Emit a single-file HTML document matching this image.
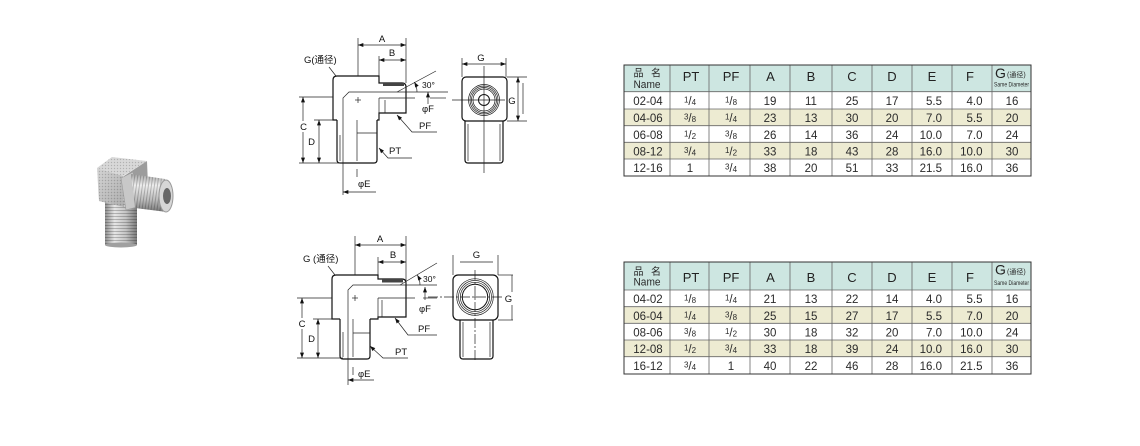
<!DOCTYPE html>
<html><head><meta charset="utf-8"><style>
html,body{margin:0;padding:0;background:#fff;}
svg{display:block;}
.t{font-family:"Liberation Sans","Noto Sans CJK SC",sans-serif;font-size:11.5px;fill:#2a2a2a;}
.h{font-family:"Liberation Sans","Noto Sans CJK SC",sans-serif;font-size:13px;fill:#222;}
.l{font-family:"Liberation Sans","Noto Sans CJK SC",sans-serif;font-size:9.5px;fill:#111;}
.o{stroke:#111;stroke-width:1.2;fill:none;}
.d{stroke:#222;stroke-width:0.7;fill:none;}
.gl{stroke:#666;stroke-width:0.8;}
</style></head><body>
<svg width="1140" height="446" viewBox="0 0 1140 446" xmlns="http://www.w3.org/2000/svg">
<defs>
<marker id="a" viewBox="0 0 8 6" refX="8" refY="3" markerWidth="6" markerHeight="4" orient="auto-start-reverse" markerUnits="userSpaceOnUse"><path d="M0,0L8,3L0,6z" fill="#111"/></marker>
<linearGradient id="gv" x1="0" x2="1" y1="0" y2="0"><stop offset="0" stop-color="#8e8e8e"/><stop offset="0.3" stop-color="#e6e6e6"/><stop offset="0.65" stop-color="#c4c4c4"/><stop offset="1" stop-color="#7a7a7a"/></linearGradient>
<linearGradient id="gh" x1="0" x2="0" y1="0" y2="1"><stop offset="0" stop-color="#a5a5a5"/><stop offset="0.3" stop-color="#eeeeee"/><stop offset="0.7" stop-color="#b8b8b8"/><stop offset="1" stop-color="#777"/></linearGradient>
<linearGradient id="gb" x1="0" x2="1" y1="0" y2="1"><stop offset="0" stop-color="#d0d0d0"/><stop offset="1" stop-color="#a8a8a8"/></linearGradient>
<pattern id="th" width="4" height="3" patternUnits="userSpaceOnUse"><rect width="4" height="1" fill="rgba(0,0,0,0.22)"/></pattern>
<pattern id="tv" width="3" height="4" patternUnits="userSpaceOnUse" patternTransform="skewX(-8)"><rect width="1" height="4" fill="rgba(0,0,0,0.22)"/></pattern>
<pattern id="kn" width="3" height="3" patternUnits="userSpaceOnUse"><rect width="1" height="1" fill="rgba(70,70,70,0.25)"/><rect x="1.5" y="1.5" width="1" height="1" fill="rgba(255,255,255,0.35)"/></pattern>
</defs>

<!-- PHOTO -->
<g>
<rect x="105" y="200" width="32" height="45" fill="url(#gv)"/>
<rect x="105" y="200" width="32" height="45" fill="url(#th)"/>
<ellipse cx="121" cy="245" rx="16" ry="2.5" fill="#a0a0a0"/>
<polygon points="124,176 147,161 148,186 126,208" fill="#9c9c9c"/>
<polygon points="97,168 123,176 124,207 99,201" fill="url(#gb)"/>
<polygon points="97,168 123,176 124,207 99,201" fill="url(#kn)"/>
<polygon points="97,168 112,157 147,161 123,176" fill="#d4d4d4"/>
<polygon points="97,168 112,157 147,161 123,176" fill="url(#kn)"/>
<polygon points="121,178 133,172 137,207 126,210" fill="#c8c8c8" stroke="#9a9a9a" stroke-width="0.6"/>
<polygon points="131,174 165,179 167,212 135,208" fill="url(#gh)"/>
<polygon points="131,174 165,179 167,212 135,208" fill="url(#tv)"/>
<ellipse cx="166" cy="196" rx="7" ry="16" fill="#d6d6d6" stroke="#999" stroke-width="1"/>
<ellipse cx="167" cy="196" rx="4" ry="8" fill="#666"/>
</g>

<!-- TOP SIDE VIEW -->
<g>
<path class="o" d="M377,120 L379,120 L379,113 L406,113 L406,87 Q406,83 402,83 L379,83 L379,76 L337,76 Q333,76 333,80 L333,120 L337,120"/>
<path class="o" d="M337,120 L337,160 Q337,163 340,163 L374,163 Q377,163 377,160 L377,120"/>
<line x1="340" y1="135" x2="340" y2="161" class="d"/>
<rect x="383" y="83" width="21" height="3" fill="#444"/>
<line x1="379" y1="98" x2="379" y2="120" class="d"/>
<line x1="379" y1="98" x2="415" y2="98" class="d"/>
<line x1="430" y1="98" x2="446" y2="98" class="d"/>
<line x1="385" y1="100" x2="385" y2="113" class="d"/>
<path class="d" d="M343,195 L343,98 L349,92 L448,92"/>
<line x1="357" y1="120" x2="357" y2="161" class="d"/>
<line x1="357" y1="133" x2="377" y2="133" class="d"/>
<line x1="355" y1="100" x2="361" y2="100" class="d"/><line x1="358" y1="97" x2="358" y2="103" class="d"/>
<line x1="358" y1="38" x2="358" y2="76" class="d"/>
<line x1="406" y1="38" x2="406" y2="83" class="d"/>
<line x1="358" y1="45" x2="406" y2="45" class="d" marker-start="url(#a)" marker-end="url(#a)"/>
<text class="l" x="382" y="42" text-anchor="middle">A</text>
<line x1="379" y1="56" x2="379" y2="76" class="d"/>
<line x1="379" y1="60" x2="406" y2="60" class="d" marker-start="url(#a)" marker-end="url(#a)"/>
<text class="l" x="392" y="56" text-anchor="middle">B</text>
<text class="l" x="304" y="63">G(通径)</text>
<line x1="329" y1="67" x2="336" y2="76" class="d"/>
<line x1="299" y1="97" x2="333" y2="97" class="d"/>
<line x1="303" y1="97" x2="303" y2="163" class="d" marker-start="url(#a)" marker-end="url(#a)"/>
<rect x="299" y="121" width="9" height="11" fill="#fff"/>
<text class="l" x="303.5" y="130" text-anchor="middle">C</text>
<line x1="314" y1="120" x2="333" y2="120" class="d"/>
<line x1="319" y1="120" x2="319" y2="163" class="d" marker-start="url(#a)" marker-end="url(#a)"/>
<text class="l" x="311.5" y="145" text-anchor="middle">D</text>
<line x1="299" y1="163" x2="342" y2="163" class="d"/>
<line x1="357" y1="169" x2="357" y2="177" class="d"/>
<text class="l" x="358" y="187">φE</text>
<line x1="343" y1="192" x2="376" y2="192" class="d" marker-start="url(#a)"/>
<line x1="397" y1="92" x2="436" y2="71" class="d"/>
<path class="d" d="M417,92 A20,20 0 0 0 414.3,82" marker-end="url(#a)"/>
<text class="l" x="422" y="88" style="font-size:8.5px">30°</text>
<line x1="428" y1="92" x2="428" y2="104" class="d" marker-start="url(#a)"/>
<text class="l" x="422" y="112">φF</text>
<polyline class="d" points="397,115 412,132 437,132" marker-start="url(#a)"/>
<text class="l" x="419" y="129">PF</text>
<polyline class="d" points="379,148 388,158 412,158" marker-start="url(#a)"/>
<text class="l" x="389" y="154">PT</text>
</g>

<!-- TOP FRONT VIEW -->
<g>
<rect x="462" y="77" width="45" height="44" rx="4" class="o"/>
<path class="o" d="M465,121 L465,160 Q465,163 468,163 L500,163 Q503,163 503,160 L503,121"/>
<line x1="468" y1="124" x2="468" y2="161" class="d"/>
<line x1="500" y1="124" x2="500" y2="161" class="d"/>
<circle cx="484" cy="100" r="15.5" class="d"/>
<circle cx="484" cy="100" r="14" class="d"/>
<circle cx="484" cy="100" r="12.5" class="d"/>
<circle cx="484" cy="100" r="11" class="d"/>
<circle cx="484" cy="100" r="5.5" fill="none" stroke="#111" stroke-width="1"/>
<line x1="484" y1="66" x2="484" y2="173" class="d"/>
<line x1="452" y1="100" x2="505" y2="100" class="d"/>
<line x1="462" y1="58" x2="462" y2="77" class="d"/>
<line x1="506" y1="58" x2="506" y2="77" class="d"/>
<line x1="462" y1="64" x2="506" y2="64" class="d" marker-start="url(#a)" marker-end="url(#a)"/>
<text class="l" x="481" y="61" text-anchor="middle">G</text>
<line x1="507" y1="77" x2="527" y2="77" class="d"/>
<line x1="507" y1="121" x2="527" y2="121" class="d"/>
<line x1="518" y1="77" x2="518" y2="121" class="d" marker-start="url(#a)" marker-end="url(#a)"/>
<line x1="523" y1="83" x2="523" y2="114" class="d"/>
<text class="l" x="512" y="104" text-anchor="middle">G</text>
</g>

<!-- BOTTOM SIDE VIEW -->
<g>
<path class="o" d="M370,319 L378,319 L378,317 L406,317 L406,283 Q406,279 402,279 L378,279 L378,275 L336,275 Q332,275 332,279 L332,319 L340,319"/>
<path class="o" d="M340,319 L340,356 Q340,359 343,359 L367,359 Q370,359 370,356 L370,319"/>
<line x1="343" y1="332" x2="343" y2="357" class="d"/>
<rect x="382" y="279" width="21" height="3.5" fill="#444"/>
<line x1="378" y1="298" x2="378" y2="319" class="d"/>
<line x1="378" y1="298" x2="415" y2="298" class="d"/>
<line x1="423" y1="298" x2="437" y2="298" class="d"/>
<line x1="382" y1="300" x2="382" y2="317" class="d"/>
<path class="d" d="M348,385 L348,290 L353,285 L437,285"/>
<line x1="353" y1="319" x2="353" y2="357" class="d"/>
<line x1="353" y1="333" x2="370" y2="333" class="d"/>
<line x1="352" y1="298" x2="358" y2="298" class="d"/><line x1="355" y1="295" x2="355" y2="301" class="d"/>
<line x1="355" y1="236" x2="355" y2="275" class="d"/>
<line x1="406" y1="236" x2="406" y2="285" class="d"/>
<line x1="355" y1="245" x2="406" y2="245" class="d" marker-start="url(#a)" marker-end="url(#a)"/>
<text class="l" x="380" y="242" text-anchor="middle">A</text>
<line x1="378" y1="257" x2="378" y2="275" class="d"/>
<line x1="378" y1="262" x2="406" y2="262" class="d" marker-start="url(#a)" marker-end="url(#a)"/>
<text class="l" x="393" y="258" text-anchor="middle">B</text>
<text class="l" x="303" y="262">G (通径)</text>
<line x1="328" y1="266" x2="335" y2="275" class="d"/>
<line x1="297" y1="298" x2="332" y2="298" class="d"/>
<line x1="302" y1="298" x2="302" y2="358" class="d" marker-start="url(#a)" marker-end="url(#a)"/>
<rect x="298" y="318" width="9" height="11" fill="#fff"/>
<text class="l" x="302" y="327" text-anchor="middle">C</text>
<line x1="313" y1="319" x2="340" y2="319" class="d"/>
<line x1="318" y1="319" x2="318" y2="358" class="d" marker-start="url(#a)" marker-end="url(#a)"/>
<text class="l" x="311.5" y="342" text-anchor="middle">D</text>
<line x1="297" y1="358" x2="343" y2="358" class="d"/>
<line x1="353" y1="367" x2="353" y2="375" class="d"/>
<text class="l" x="358" y="377">φE</text>
<line x1="348" y1="380" x2="374" y2="380" class="d" marker-start="url(#a)"/>
<line x1="400" y1="285" x2="437" y2="263" class="d"/>
<path class="d" d="M420,285 A20,20 0 0 0 417.3,275" marker-end="url(#a)"/>
<text class="l" x="423" y="282" style="font-size:8.5px">30°</text>
<line x1="425" y1="287" x2="425" y2="300" class="d" marker-start="url(#a)"/>
<text class="l" x="419" y="312">φF</text>
<polyline class="d" points="395,318 408,335 437,335" marker-start="url(#a)"/>
<text class="l" x="418" y="332">PF</text>
<polyline class="d" points="370,346 383,358 408,358" marker-start="url(#a)"/>
<text class="l" x="395" y="355">PT</text>
</g>

<!-- BOTTOM FRONT VIEW -->
<g>
<rect x="453" y="275" width="45" height="45" rx="5" class="o"/>
<path class="o" d="M460,320 L460,356 Q460,359 463,359 L490,359 Q493,359 493,356 L493,320"/>
<line x1="463" y1="322" x2="463" y2="357" class="d"/>
<line x1="490" y1="322" x2="490" y2="357" class="d"/>
<circle cx="475" cy="297" r="18.3" class="d"/>
<circle cx="475" cy="297" r="16.5" class="d"/>
<circle cx="475" cy="297" r="14.7" class="d"/>
<circle cx="475" cy="297" r="12.7" fill="none" stroke="#111" stroke-width="1"/>
<circle cx="475" cy="297" r="0.8" fill="#111"/>
<line x1="475" y1="270" x2="475" y2="362" class="d" stroke-dasharray="10,2,2,2"/>
<line x1="428" y1="297" x2="503" y2="297" class="d" stroke-dasharray="10,2,2,2"/>
<line x1="460" y1="262" x2="493" y2="262" class="d"/>
<line x1="453" y1="255" x2="453" y2="275" class="d"/>
<line x1="498" y1="255" x2="498" y2="275" class="d"/>
<text class="l" x="476.5" y="258" text-anchor="middle">G</text>
<line x1="498" y1="275" x2="513" y2="275" class="d"/>
<line x1="498" y1="320" x2="513" y2="320" class="d"/>
<line x1="512" y1="275" x2="512" y2="292" class="d"/>
<line x1="512" y1="305" x2="512" y2="320" class="d"/>
<text class="l" x="508.5" y="302" text-anchor="middle">G</text>
</g>

<!-- TABLE 1 -->
<g>
<rect x="624" y="65" width="407" height="26.7" fill="#cde6e1"/>
<rect x="624" y="109" width="407" height="16.7" fill="#edebd2"/>
<rect x="624" y="142.3" width="407" height="16.7" fill="#edebd2"/>
<g class="gl">
<line x1="624" y1="91.7" x2="1031" y2="91.7"/><line x1="624" y1="109" x2="1031" y2="109"/><line x1="624" y1="125.7" x2="1031" y2="125.7"/><line x1="624" y1="142.3" x2="1031" y2="142.3"/><line x1="624" y1="159" x2="1031" y2="159"/>
<line x1="670" y1="65" x2="670" y2="176"/><line x1="709" y1="65" x2="709" y2="176"/><line x1="750" y1="65" x2="750" y2="176"/><line x1="790" y1="65" x2="790" y2="176"/><line x1="832" y1="65" x2="832" y2="176"/><line x1="872" y1="65" x2="872" y2="176"/><line x1="912" y1="65" x2="912" y2="176"/><line x1="952" y1="65" x2="952" y2="176"/><line x1="992" y1="65" x2="992" y2="176"/>
</g>
<rect x="624" y="65" width="407" height="111" fill="none" stroke="#333" stroke-width="1"/>
<text class="t" x="638.5" y="76.5" text-anchor="middle" style="font-size:10px">品</text>
<text class="t" x="656" y="76.5" text-anchor="middle" style="font-size:10px">名</text>
<text class="t" x="633.5" y="88" textLength="27" lengthAdjust="spacingAndGlyphs" style="font-size:11px">Name</text>
<text class="h" x="691" y="81" text-anchor="middle">PT</text>
<text class="h" x="731" y="81" text-anchor="middle">PF</text>
<text class="h" x="770.5" y="81" text-anchor="middle">A</text>
<text class="h" x="811" y="81" text-anchor="middle">B</text>
<text class="h" x="852" y="81" text-anchor="middle">C</text>
<text class="h" x="892" y="81" text-anchor="middle">D</text>
<text class="h" x="932" y="81" text-anchor="middle">E</text>
<text class="h" x="970" y="81" text-anchor="middle">F</text>
<text class="h" x="995" y="78" style="font-size:14px">G</text>
<text class="t" x="1007" y="77" style="font-size:7px">(通径)</text>
<text class="t" x="994" y="86.5" textLength="35" lengthAdjust="spacingAndGlyphs" style="font-size:6px">Same Diameter</text>

<text class="t" x="648" y="105" text-anchor="middle">02-04</text>
<text class="t" x="690" y="105" text-anchor="middle"><tspan font-size="8" dy="-2.5">1</tspan><tspan dy="2.5">/</tspan><tspan font-size="8">4</tspan></text>
<text class="t" x="731" y="105" text-anchor="middle"><tspan font-size="8" dy="-2.5">1</tspan><tspan dy="2.5">/</tspan><tspan font-size="8">8</tspan></text>
<text class="t" x="770" y="105" text-anchor="middle">19</text>
<text class="t" x="811" y="105" text-anchor="middle">11</text>
<text class="t" x="852" y="105" text-anchor="middle">25</text>
<text class="t" x="892" y="105" text-anchor="middle">17</text>
<text class="t" x="942" y="105" text-anchor="end">5.5</text>
<text class="t" x="982.5" y="105" text-anchor="end">4.0</text>
<text class="t" x="1012" y="105" text-anchor="middle">16</text>

<text class="t" x="648" y="122" text-anchor="middle">04-06</text>
<text class="t" x="690" y="122" text-anchor="middle"><tspan font-size="8" dy="-2.5">3</tspan><tspan dy="2.5">/</tspan><tspan font-size="8">8</tspan></text>
<text class="t" x="731" y="122" text-anchor="middle"><tspan font-size="8" dy="-2.5">1</tspan><tspan dy="2.5">/</tspan><tspan font-size="8">4</tspan></text>
<text class="t" x="770" y="122" text-anchor="middle">23</text>
<text class="t" x="811" y="122" text-anchor="middle">13</text>
<text class="t" x="852" y="122" text-anchor="middle">30</text>
<text class="t" x="892" y="122" text-anchor="middle">20</text>
<text class="t" x="942" y="122" text-anchor="end">7.0</text>
<text class="t" x="982.5" y="122" text-anchor="end">5.5</text>
<text class="t" x="1012" y="122" text-anchor="middle">20</text>

<text class="t" x="648" y="139" text-anchor="middle">06-08</text>
<text class="t" x="690" y="139" text-anchor="middle"><tspan font-size="8" dy="-2.5">1</tspan><tspan dy="2.5">/</tspan><tspan font-size="8">2</tspan></text>
<text class="t" x="731" y="139" text-anchor="middle"><tspan font-size="8" dy="-2.5">3</tspan><tspan dy="2.5">/</tspan><tspan font-size="8">8</tspan></text>
<text class="t" x="770" y="139" text-anchor="middle">26</text>
<text class="t" x="811" y="139" text-anchor="middle">14</text>
<text class="t" x="852" y="139" text-anchor="middle">36</text>
<text class="t" x="892" y="139" text-anchor="middle">24</text>
<text class="t" x="942" y="139" text-anchor="end">10.0</text>
<text class="t" x="982.5" y="139" text-anchor="end">7.0</text>
<text class="t" x="1012" y="139" text-anchor="middle">24</text>

<text class="t" x="648" y="155.5" text-anchor="middle">08-12</text>
<text class="t" x="690" y="155.5" text-anchor="middle"><tspan font-size="8" dy="-2.5">3</tspan><tspan dy="2.5">/</tspan><tspan font-size="8">4</tspan></text>
<text class="t" x="731" y="155.5" text-anchor="middle"><tspan font-size="8" dy="-2.5">1</tspan><tspan dy="2.5">/</tspan><tspan font-size="8">2</tspan></text>
<text class="t" x="770" y="155.5" text-anchor="middle">33</text>
<text class="t" x="811" y="155.5" text-anchor="middle">18</text>
<text class="t" x="852" y="155.5" text-anchor="middle">43</text>
<text class="t" x="892" y="155.5" text-anchor="middle">28</text>
<text class="t" x="942" y="155.5" text-anchor="end">16.0</text>
<text class="t" x="982.5" y="155.5" text-anchor="end">10.0</text>
<text class="t" x="1012" y="155.5" text-anchor="middle">30</text>

<text class="t" x="648" y="172" text-anchor="middle">12-16</text>
<text class="t" x="690" y="172" text-anchor="middle">1</text>
<text class="t" x="731" y="172" text-anchor="middle"><tspan font-size="8" dy="-2.5">3</tspan><tspan dy="2.5">/</tspan><tspan font-size="8">4</tspan></text>
<text class="t" x="770" y="172" text-anchor="middle">38</text>
<text class="t" x="811" y="172" text-anchor="middle">20</text>
<text class="t" x="852" y="172" text-anchor="middle">51</text>
<text class="t" x="892" y="172" text-anchor="middle">33</text>
<text class="t" x="942" y="172" text-anchor="end">21.5</text>
<text class="t" x="982.5" y="172" text-anchor="end">16.0</text>
<text class="t" x="1012" y="172" text-anchor="middle">36</text>
</g>

<!-- TABLE 2 -->
<g>
<rect x="624" y="262" width="407" height="28" fill="#cde6e1"/>
<rect x="624" y="306.7" width="407" height="16.6" fill="#edebd2"/>
<rect x="624" y="340" width="407" height="16.7" fill="#edebd2"/>
<g class="gl">
<line x1="624" y1="290" x2="1031" y2="290"/><line x1="624" y1="306.7" x2="1031" y2="306.7"/><line x1="624" y1="323.3" x2="1031" y2="323.3"/><line x1="624" y1="340" x2="1031" y2="340"/><line x1="624" y1="356.7" x2="1031" y2="356.7"/>
<line x1="670" y1="262" x2="670" y2="374"/><line x1="709" y1="262" x2="709" y2="374"/><line x1="750" y1="262" x2="750" y2="374"/><line x1="790" y1="262" x2="790" y2="374"/><line x1="832" y1="262" x2="832" y2="374"/><line x1="872" y1="262" x2="872" y2="374"/><line x1="912" y1="262" x2="912" y2="374"/><line x1="952" y1="262" x2="952" y2="374"/><line x1="992" y1="262" x2="992" y2="374"/>
</g>
<rect x="624" y="262" width="407" height="112" fill="none" stroke="#333" stroke-width="1"/>
<text class="t" x="638.5" y="275" text-anchor="middle" style="font-size:10px">品</text>
<text class="t" x="656" y="275" text-anchor="middle" style="font-size:10px">名</text>
<text class="t" x="633.5" y="285.5" textLength="27" lengthAdjust="spacingAndGlyphs" style="font-size:11px">Name</text>
<text class="h" x="691" y="282" text-anchor="middle">PT</text>
<text class="h" x="731" y="282" text-anchor="middle">PF</text>
<text class="h" x="770.5" y="282" text-anchor="middle">A</text>
<text class="h" x="811" y="282" text-anchor="middle">B</text>
<text class="h" x="852" y="282" text-anchor="middle">C</text>
<text class="h" x="892" y="282" text-anchor="middle">D</text>
<text class="h" x="932" y="282" text-anchor="middle">E</text>
<text class="h" x="970" y="282" text-anchor="middle">F</text>
<text class="h" x="995" y="274.5" style="font-size:14px">G</text>
<text class="t" x="1007" y="274" style="font-size:7px">(通径)</text>
<text class="t" x="994" y="285" textLength="35" lengthAdjust="spacingAndGlyphs" style="font-size:6px">Same Diameter</text>

<text class="t" x="648" y="303" text-anchor="middle">04-02</text>
<text class="t" x="690" y="303" text-anchor="middle"><tspan font-size="8" dy="-2.5">1</tspan><tspan dy="2.5">/</tspan><tspan font-size="8">8</tspan></text>
<text class="t" x="731" y="303" text-anchor="middle"><tspan font-size="8" dy="-2.5">1</tspan><tspan dy="2.5">/</tspan><tspan font-size="8">4</tspan></text>
<text class="t" x="770" y="303" text-anchor="middle">21</text>
<text class="t" x="811" y="303" text-anchor="middle">13</text>
<text class="t" x="852" y="303" text-anchor="middle">22</text>
<text class="t" x="892" y="303" text-anchor="middle">14</text>
<text class="t" x="942" y="303" text-anchor="end">4.0</text>
<text class="t" x="982.5" y="303" text-anchor="end">5.5</text>
<text class="t" x="1012" y="303" text-anchor="middle">16</text>

<text class="t" x="648" y="320" text-anchor="middle">06-04</text>
<text class="t" x="690" y="320" text-anchor="middle"><tspan font-size="8" dy="-2.5">1</tspan><tspan dy="2.5">/</tspan><tspan font-size="8">4</tspan></text>
<text class="t" x="731" y="320" text-anchor="middle"><tspan font-size="8" dy="-2.5">3</tspan><tspan dy="2.5">/</tspan><tspan font-size="8">8</tspan></text>
<text class="t" x="770" y="320" text-anchor="middle">25</text>
<text class="t" x="811" y="320" text-anchor="middle">15</text>
<text class="t" x="852" y="320" text-anchor="middle">27</text>
<text class="t" x="892" y="320" text-anchor="middle">17</text>
<text class="t" x="942" y="320" text-anchor="end">5.5</text>
<text class="t" x="982.5" y="320" text-anchor="end">7.0</text>
<text class="t" x="1012" y="320" text-anchor="middle">20</text>

<text class="t" x="648" y="336.5" text-anchor="middle">08-06</text>
<text class="t" x="690" y="336.5" text-anchor="middle"><tspan font-size="8" dy="-2.5">3</tspan><tspan dy="2.5">/</tspan><tspan font-size="8">8</tspan></text>
<text class="t" x="731" y="336.5" text-anchor="middle"><tspan font-size="8" dy="-2.5">1</tspan><tspan dy="2.5">/</tspan><tspan font-size="8">2</tspan></text>
<text class="t" x="770" y="336.5" text-anchor="middle">30</text>
<text class="t" x="811" y="336.5" text-anchor="middle">18</text>
<text class="t" x="852" y="336.5" text-anchor="middle">32</text>
<text class="t" x="892" y="336.5" text-anchor="middle">20</text>
<text class="t" x="942" y="336.5" text-anchor="end">7.0</text>
<text class="t" x="982.5" y="336.5" text-anchor="end">10.0</text>
<text class="t" x="1012" y="336.5" text-anchor="middle">24</text>

<text class="t" x="648" y="353" text-anchor="middle">12-08</text>
<text class="t" x="690" y="353" text-anchor="middle"><tspan font-size="8" dy="-2.5">1</tspan><tspan dy="2.5">/</tspan><tspan font-size="8">2</tspan></text>
<text class="t" x="731" y="353" text-anchor="middle"><tspan font-size="8" dy="-2.5">3</tspan><tspan dy="2.5">/</tspan><tspan font-size="8">4</tspan></text>
<text class="t" x="770" y="353" text-anchor="middle">33</text>
<text class="t" x="811" y="353" text-anchor="middle">18</text>
<text class="t" x="852" y="353" text-anchor="middle">39</text>
<text class="t" x="892" y="353" text-anchor="middle">24</text>
<text class="t" x="942" y="353" text-anchor="end">10.0</text>
<text class="t" x="982.5" y="353" text-anchor="end">16.0</text>
<text class="t" x="1012" y="353" text-anchor="middle">30</text>

<text class="t" x="648" y="370" text-anchor="middle">16-12</text>
<text class="t" x="690" y="370" text-anchor="middle"><tspan font-size="8" dy="-2.5">3</tspan><tspan dy="2.5">/</tspan><tspan font-size="8">4</tspan></text>
<text class="t" x="731" y="370" text-anchor="middle">1</text>
<text class="t" x="770" y="370" text-anchor="middle">40</text>
<text class="t" x="811" y="370" text-anchor="middle">22</text>
<text class="t" x="852" y="370" text-anchor="middle">46</text>
<text class="t" x="892" y="370" text-anchor="middle">28</text>
<text class="t" x="942" y="370" text-anchor="end">16.0</text>
<text class="t" x="982.5" y="370" text-anchor="end">21.5</text>
<text class="t" x="1012" y="370" text-anchor="middle">36</text>
</g>
</svg>
</body></html>
